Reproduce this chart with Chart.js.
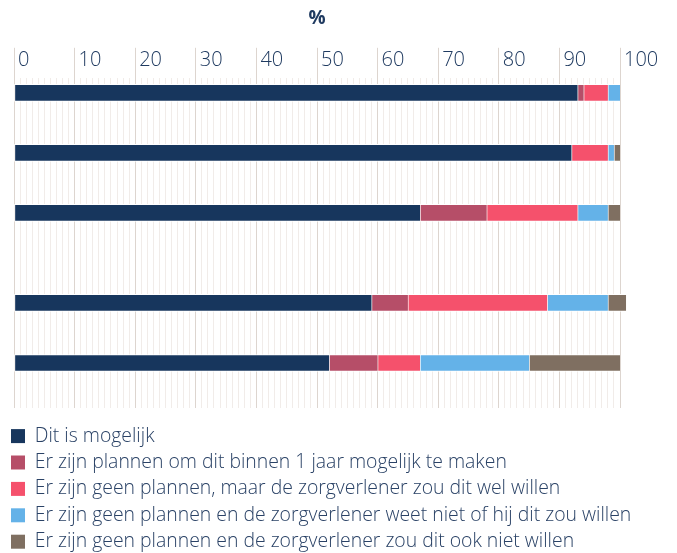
<!DOCTYPE html>
<html>
<head>
<meta charset="utf-8">
<script src="https://cdn.jsdelivr.net/npm/chart.js@4"></script>
<style>
  html, body { margin: 0; padding: 0; background: #fff; }
  #wrap { width: 677px; height: 553px; position: relative; }
</style>
</head>
<body>
<div id="wrap"><canvas id="zorg"></canvas></div>
<script>
// lege rijen zijn tussenruimte
const rowLabels = ['', '', '', '', '', '', '', '', '', '', ''];

const mogelijk   = [93, null, 92, null, 67, null, null, 59, null, 52, null];
const binnenJaar = [1, null, 0, null, 11, null, null, 6, null, 8, null];
const welWillen  = [4, null, 6, null, 15, null, null, 23, null, 7, null];
const weetNiet   = [2, null, 1, null, 5, null, null, 10, null, 18, null];
const nietWillen = [0, null, 1, null, 2, null, null, 3, null, 15, null];

const seriesNames = [
    'Dit is mogelijk',
    'Er zijn plannen om dit binnen 1 jaar mogelijk te maken',
    'Er zijn geen plannen, maar de zorgverlener zou dit wel willen',
    'Er zijn geen plannen en de zorgverlener weet niet of hij dit zou willen',
    'Er zijn geen plannen en de zorgverlener zou dit ook niet willen'
];
const seriesColors = ['#17365d', '#b64e68', '#f5516c', '#64b2e8', '#7f6f61'];
const tickLabels = [0, 10, 20, 30, 40, 50, 60, 70, 80, 90, 100];

const navy = '#1f3a60';
const majorGrid = '#ddd5cf';
const minorGrid = '#f1ece9';

const allValues = [mogelijk, binnenJaar, welWillen, weetNiet, nietWillen];

const zorg = new Chart('zorg', {
    type: 'bar',
    data: {
        labels: rowLabels,
        datasets: allValues.map((vals, i) => ({
            label: seriesNames[i],
            data: vals,
            yAxisID: 'y',
            backgroundColor: seriesColors[i],
            borderColor: '#ffffff',
            borderWidth: {top: 1, bottom: 1, left: 1, right: 0},
            borderSkipped: false,
            barThickness: 17,
            clip: false
        }))
    },
    options: {
        indexAxis: 'y',
        responsive: true,
        maintainAspectRatio: false,
        animation: false,
        layout: { padding: {left: 4, right: 4, top: 0, bottom: 0} },
        scales: {
            x: {
                position: 'top',
                stacked: true,
                min: 0,
                max: 100,
                border: { display: false },
                grid: {
                    color: c => c.tick && c.tick.value % 10 === 0 ? majorGrid : minorGrid,
                    tickColor: c => c.tick && c.tick.value % 10 === 0 ? majorGrid : 'rgba(0,0,0,0)',
                    tickLength: 30,
                    lineWidth: 1
                },
                ticks: {
                    stepSize: 1,
                    autoSkip: false,
                    maxRotation: 0,
                    align: 'start',
                    mirror: true,      // label naast de streep, niet erboven
                    labelOffset: 4,
                    padding: -30,
                    color: navy,
                    font: { family: 'Open Sans', size: 20, weight: 300 },
                    callback: v => tickLabels.includes(v) ? String(v) : ''
                },
                afterFit: scale => { scale.height = 30; }
            },
            y: {
                stacked: true,
                grid: { display: false },
                border: { display: false },
                ticks: { display: false },
                afterFit: scale => { scale.width = 10; }
            },
            // lege as rechts: ruimte voor het label 100, legenda mag wel doorlopen
            ruimte: {
                type: 'category',
                position: 'right',
                grid: { display: false },
                border: { display: false },
                ticks: { display: false },
                afterFit: scale => { scale.width = 53; }
            }
        },
        plugins: {
            title: {
                display: true,
                fullSize: false,
                text: '%',
                color: navy,
                font: { family: 'Open Sans', size: 19, weight: 'bold' },
                padding: {top: 7, bottom: 18}
            },
            tooltip: { enabled: false },
            legend: {
                position: 'bottom',
                align: 'start',
                maxHeight: 145,
                title: { display: true, text: '', padding: 0, font: { size: 9.5 } },
                labels: {
                    boxWidth: 14,
                    boxHeight: 14,
                    padding: 7,
                    color: '#2a4266',
                    font: { family: 'Open Sans', size: 19.4, weight: 300 },
                    // elke regel apart: tekst aanvullen met spaties
                    generateLabels: chart => Chart.defaults.plugins.legend.labels.generateLabels(chart)
                        .map(item => ({...item, text: item.text + '\u2003'.repeat(20), lineWidth: 0}))
                }
            }
        }
    }
});
</script>
</body>
</html>
